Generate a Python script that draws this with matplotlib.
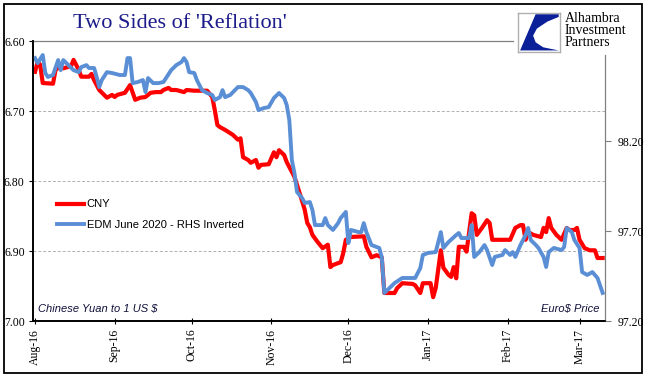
# Two Sides of 'Reflation': CNY vs EDM June 2020 (RHS inverted)
import matplotlib
matplotlib.use('Agg')
import matplotlib.pyplot as plt
import matplotlib.dates as mdates
from matplotlib.patches import Polygon, Rectangle
from matplotlib.lines import Line2D
import pandas as pd

# ==================== data ====================
cny_dates = [
    '2016-08-01', '2016-08-02', '2016-08-03', '2016-08-04', '2016-08-08', '2016-08-09',
    '2016-08-11', '2016-08-12', '2016-08-15', '2016-08-16', '2016-08-17', '2016-08-18',
    '2016-08-19', '2016-08-22', '2016-08-23', '2016-08-24', '2016-08-26', '2016-08-29',
    '2016-08-31', '2016-09-01', '2016-09-02', '2016-09-05', '2016-09-07', '2016-09-09',
    '2016-09-11', '2016-09-13', '2016-09-15', '2016-09-17', '2016-09-19', '2016-09-20',
    '2016-09-22', '2016-09-23', '2016-09-25', '2016-09-28', '2016-09-29', '2016-10-02',
    '2016-10-07', '2016-10-09', '2016-10-10', '2016-10-11', '2016-10-12', '2016-10-14',
    '2016-10-17', '2016-10-19', '2016-10-20', '2016-10-21', '2016-10-23', '2016-10-24',
    '2016-10-26', '2016-10-27', '2016-10-28', '2016-10-31', '2016-11-02', '2016-11-03',
    '2016-11-04', '2016-11-06', '2016-11-07', '2016-11-09', '2016-11-10', '2016-11-12',
    '2016-11-14', '2016-11-15', '2016-11-16', '2016-11-17', '2016-11-19', '2016-11-21',
    '2016-11-23', '2016-11-24', '2016-11-25', '2016-11-28', '2016-11-29', '2016-11-30',
    '2016-12-02', '2016-12-07', '2016-12-08', '2016-12-10', '2016-12-12', '2016-12-14',
    '2016-12-15', '2016-12-19', '2016-12-20', '2016-12-22', '2016-12-26', '2016-12-27',
    '2016-12-29', '2016-12-30', '2017-01-02', '2017-01-03', '2017-01-04', '2017-01-06',
    '2017-01-07', '2017-01-09', '2017-01-10', '2017-01-11', '2017-01-12', '2017-01-13',
    '2017-01-15', '2017-01-16', '2017-01-18', '2017-01-19', '2017-01-20', '2017-01-22',
    '2017-01-24', '2017-01-25', '2017-01-26', '2017-02-02', '2017-02-04', '2017-02-06',
    '2017-02-07', '2017-02-08', '2017-02-09', '2017-02-11', '2017-02-14', '2017-02-15',
    '2017-02-16', '2017-02-17', '2017-02-18', '2017-02-20', '2017-02-22', '2017-02-24',
    '2017-02-25', '2017-02-27', '2017-02-28', '2017-03-01', '2017-03-03', '2017-03-05',
    '2017-03-07', '2017-03-08', '2017-03-10',
]
cny_values = [
    6.644, 6.630, 6.634, 6.660, 6.661, 6.641,
    6.636, 6.639, 6.636, 6.627, 6.634, 6.641,
    6.651, 6.651, 6.647, 6.656, 6.670, 6.681,
    6.677, 6.680, 6.677, 6.674, 6.663, 6.684,
    6.681, 6.680, 6.674, 6.673, 6.673, 6.670,
    6.667, 6.670, 6.670, 6.673, 6.670, 6.671,
    6.671, 6.680, 6.699, 6.720, 6.723, 6.727,
    6.734, 6.741, 6.739, 6.766, 6.770, 6.774,
    6.770, 6.781, 6.777, 6.776, 6.759, 6.766,
    6.756, 6.763, 6.773, 6.787, 6.794, 6.817,
    6.841, 6.860, 6.866, 6.877, 6.887, 6.896,
    6.891, 6.923, 6.920, 6.916, 6.903, 6.884,
    6.880, 6.879, 6.894, 6.909, 6.906, 6.909,
    6.960, 6.960, 6.953, 6.946, 6.947, 6.949,
    6.960, 6.946, 6.946, 6.966, 6.953, 6.899,
    6.924, 6.934, 6.937, 6.923, 6.939, 6.894,
    6.894, 6.901, 6.846, 6.849, 6.877, 6.867,
    6.856, 6.860, 6.884, 6.884, 6.867, 6.863,
    6.863, 6.884, 6.873, 6.877, 6.880, 6.867,
    6.873, 6.853, 6.867, 6.877, 6.884, 6.867,
    6.870, 6.870, 6.867, 6.884, 6.896, 6.899,
    6.899, 6.910, 6.910,
]

edm_dates = [
    '2016-08-01', '2016-08-02', '2016-08-04', '2016-08-05', '2016-08-06', '2016-08-08',
    '2016-08-10', '2016-08-11', '2016-08-12', '2016-08-14', '2016-08-16', '2016-08-18',
    '2016-08-19', '2016-08-21', '2016-08-22', '2016-08-24', '2016-08-25', '2016-08-26',
    '2016-08-27', '2016-08-29', '2016-08-31', '2016-09-03', '2016-09-05', '2016-09-06',
    '2016-09-07', '2016-09-08', '2016-09-10', '2016-09-12', '2016-09-13', '2016-09-14',
    '2016-09-16', '2016-09-18', '2016-09-20', '2016-09-21', '2016-09-23', '2016-09-25',
    '2016-09-27', '2016-09-28', '2016-09-29', '2016-09-30', '2016-10-02', '2016-10-03',
    '2016-10-05', '2016-10-07', '2016-10-09', '2016-10-10', '2016-10-12', '2016-10-13',
    '2016-10-14', '2016-10-16', '2016-10-19', '2016-10-21', '2016-10-23', '2016-10-24',
    '2016-10-26', '2016-10-27', '2016-10-29', '2016-10-31', '2016-11-02', '2016-11-04',
    '2016-11-06', '2016-11-07', '2016-11-08', '2016-11-09', '2016-11-10', '2016-11-11',
    '2016-11-13', '2016-11-14', '2016-11-16', '2016-11-17', '2016-11-18', '2016-11-21',
    '2016-11-22', '2016-11-23', '2016-11-25', '2016-11-27', '2016-11-28', '2016-11-30',
    '2016-12-01', '2016-12-02', '2016-12-05', '2016-12-06', '2016-12-07', '2016-12-08',
    '2016-12-10', '2016-12-12', '2016-12-13', '2016-12-14', '2016-12-15', '2016-12-17',
    '2016-12-19', '2016-12-22', '2016-12-27', '2016-12-29', '2016-12-30', '2017-01-01',
    '2017-01-04', '2017-01-06', '2017-01-07', '2017-01-09', '2017-01-12', '2017-01-13',
    '2017-01-14', '2017-01-17', '2017-01-18', '2017-01-19', '2017-01-21', '2017-01-23',
    '2017-01-24', '2017-01-26', '2017-01-27', '2017-01-30', '2017-01-31', '2017-02-02',
    '2017-02-03', '2017-02-04', '2017-02-06', '2017-02-08', '2017-02-09', '2017-02-10',
    '2017-02-12', '2017-02-13', '2017-02-15', '2017-02-16', '2017-02-17', '2017-02-19',
    '2017-02-22', '2017-02-23', '2017-02-24', '2017-02-26', '2017-02-27', '2017-03-01',
    '2017-03-02', '2017-03-04', '2017-03-06', '2017-03-08', '2017-03-10',
]
edm_values = [
    98.661, 98.633, 98.678, 98.578, 98.556, 98.567,
    98.650, 98.594, 98.650, 98.622, 98.594, 98.583,
    98.611, 98.622, 98.606, 98.606, 98.556, 98.500,
    98.539, 98.583, 98.578, 98.567, 98.567, 98.661,
    98.661, 98.522, 98.528, 98.539, 98.472, 98.550,
    98.522, 98.522, 98.528, 98.550, 98.594, 98.622,
    98.639, 98.661, 98.639, 98.583, 98.578, 98.539,
    98.483, 98.467, 98.456, 98.428, 98.444, 98.483,
    98.444, 98.456, 98.500, 98.500, 98.483, 98.467,
    98.417, 98.372, 98.383, 98.389, 98.439, 98.467,
    98.439, 98.400, 98.317, 98.094, 98.022, 97.917,
    97.883, 97.856, 97.861, 97.817, 97.733, 97.733,
    97.772, 97.733, 97.706, 97.744, 97.772, 97.806,
    97.633, 97.706, 97.694, 97.694, 97.744, 97.694,
    97.622, 97.611, 97.606, 97.556, 97.356, 97.383,
    97.411, 97.439, 97.439, 97.494, 97.567, 97.578,
    97.583, 97.694, 97.606, 97.639, 97.678, 97.689,
    97.661, 97.661, 97.733, 97.556, 97.583, 97.622,
    97.594, 97.511, 97.556, 97.567, 97.594, 97.567,
    97.583, 97.556, 97.622, 97.678, 97.717, 97.650,
    97.622, 97.606, 97.556, 97.500, 97.583, 97.606,
    97.594, 97.611, 97.717, 97.694, 97.650, 97.606,
    97.472, 97.456, 97.472, 97.439, 97.356,
]

left_ticks = [6.60, 6.70, 6.80, 6.90, 7.00]
right_ticks = [97.20, 97.70, 98.20]

cny_x = pd.to_datetime(cny_dates)
edm_x = pd.to_datetime(edm_dates)

SERIF = ['Liberation Serif', 'DejaVu Serif']
SANS = ['Liberation Sans', 'DejaVu Sans']
RED = '#ff0000'
BLUE = '#5b8fd5'
NAVY = '#1c1c8a'

# ==================== figure ====================
fig = plt.figure(figsize=(6.52, 3.81), dpi=100)
ax = fig.add_axes([33 / 652, 1 - 321 / 381, 572 / 652, 280 / 381])
ax2 = ax.twinx()

# outer frame
fig.patches.append(Rectangle((4 / 652, 8 / 381), 638 / 652, 369 / 381,
                             transform=fig.transFigure, fill=False,
                             edgecolor='black', linewidth=1.3))

ax.plot(cny_x, cny_values, color=RED, linewidth=3.0, solid_joinstyle='round')
ax2.plot(edm_x, edm_values, color=BLUE, linewidth=2.8, solid_joinstyle='round')

# left axis (inverted)
ax.set_ylim(7.00, 6.60)
ax.set_yticks(left_ticks)
ax.set_yticklabels([f'{v:.2f}' for v in left_ticks], family=SERIF, fontsize=8.5)
for v in left_ticks[1:-1]:
    ax.axhline(v, color='#b0b0b0', linewidth=0.7, linestyle=(0, (3, 2)), zorder=0)

# right axis
ax2.set_ylim(97.20, 98.756)
ax2.set_yticks(right_ticks)
ax2.set_yticklabels([f'{v:.2f}' for v in right_ticks], family=SERIF, fontsize=8.5)

# x axis
xlo = pd.Timestamp('2016-07-31 05:00')
xhi = pd.Timestamp('2017-03-10 22:00')
ax.set_xlim(xlo, xhi)
ax.xaxis.set_major_locator(mdates.MonthLocator())
ax.xaxis.set_major_formatter(mdates.DateFormatter('%b-%y'))
for lab in ax.get_xticklabels():
    lab.set_rotation(90)
    lab.set_family(SERIF)
    lab.set_fontsize(8.5)
ax.tick_params(axis='x', direction='inout', length=5, width=0.8, pad=3)
ax.tick_params(axis='y', direction='out', length=3, width=0.8, pad=3)
ax2.tick_params(axis='y', direction='out', length=4, width=0.8, pad=5, color='#808080')

# spines
for a in (ax, ax2):
    a.spines['left'].set_color('black')
    a.spines['left'].set_linewidth(1.2)
    a.spines['bottom'].set_color('black')
    a.spines['bottom'].set_linewidth(1.2)
    a.spines['top'].set_color('#808080')
    a.spines['top'].set_linewidth(0.9)
    a.spines['right'].set_color('#808080')
    a.spines['right'].set_linewidth(0.9)
ax.spines['top'].set_bounds(mdates.date2num(xlo), mdates.date2num(pd.Timestamp('2017-02-03')))
ax2.spines['top'].set_visible(False)
ax.spines['right'].set_visible(False)
ax2.spines['right'].set_bounds(97.20, 98.678)

# legend
handles = [Line2D([], [], color=RED, linewidth=3.0),
           Line2D([], [], color=BLUE, linewidth=2.8)]
ax.legend(handles, ['CNY', 'EDM June 2020 - RHS Inverted'],
          loc='upper left', bbox_to_anchor=(0.025, 0.47), frameon=False,
          prop={'family': SANS, 'size': 8}, handlelength=2.4,
          handletextpad=0.25, labelspacing=0.95)

# corner notes
ax.text(0.008, 0.025, 'Chinese Yuan to 1 US $', transform=ax.transAxes,
        family=SANS, style='italic', fontsize=8, color='#10103a', ha='left', va='bottom')
ax2.text(0.99, 0.025, 'Euro$ Price', transform=ax2.transAxes,
         family=SANS, style='italic', fontsize=8, color='#10103a', ha='right', va='bottom')

# title
fig.text(180 / 652, 1 - 23 / 381, "Two Sides of 'Reflation'", family=SERIF,
         fontsize=16, color=NAVY, ha='center', va='center')

# logo
lax = fig.add_axes([518 / 652, 1 - 52 / 381, 42 / 652, 39 / 381])
lax.set_xlim(0, 1)
lax.set_ylim(0, 1)
lax.set_xticks([])
lax.set_yticks([])
for s in lax.spines.values():
    s.set_color('#b0b0b0')
    s.set_linewidth(1.0)
lax.add_patch(Polygon([(0.42, 0.97), (0.97, 0.97), (0.97, 0.9), (0.7, 0.78),
                       (0.45, 0.6), (0.36, 0.42), (0.42, 0.25), (0.6, 0.12),
                       (0.97, 0.04), (0.05, 0.04)],
                      closed=True, facecolor='#0b1f99', edgecolor='none'))
fig.text(565 / 652, 1 - 12 / 381, 'Alhambra\nInvestment\nPartners', family=SERIF,
         fontsize=10, color='black', ha='left', va='top', linespacing=0.88)

plt.savefig('out.png', dpi=100)
